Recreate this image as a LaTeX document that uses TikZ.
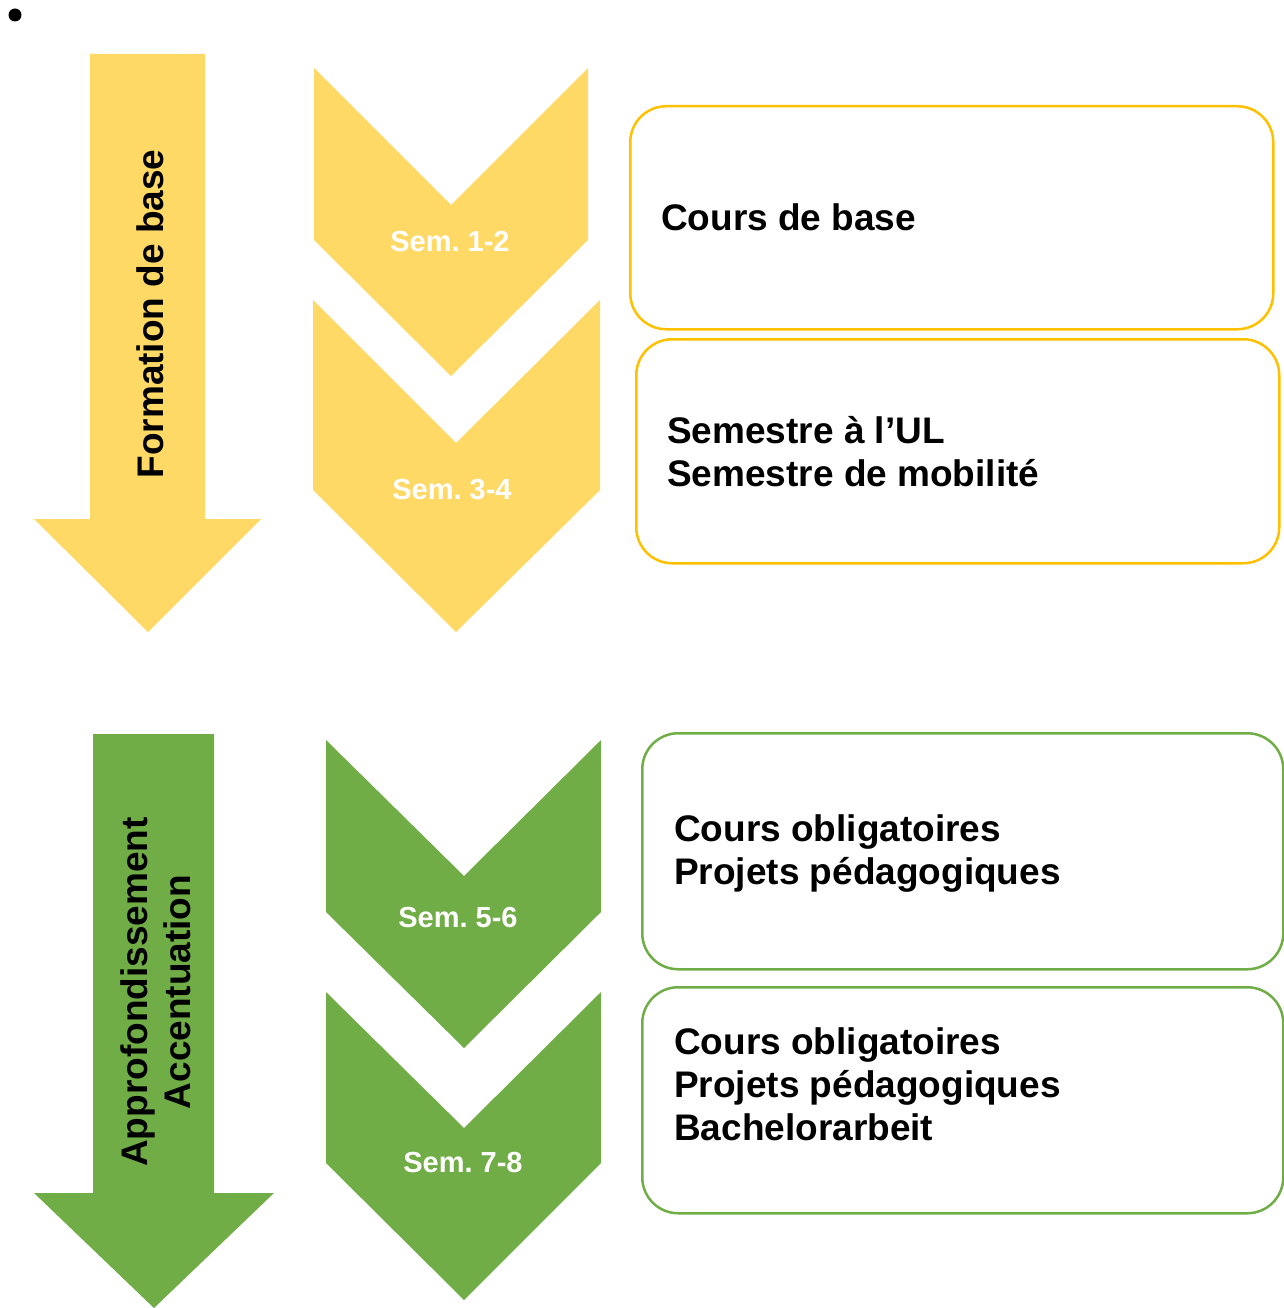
\documentclass[tikz,border=0pt]{standalone}
\usepackage{fontspec}
\setmainfont{Liberation Sans}
\usetikzlibrary{positioning}
\frenchspacing

\definecolor{semyellow}{HTML}{FFD966}
\definecolor{lineyellow}{HTML}{FFC000}
\definecolor{semgreen}{HTML}{70AD47}

\tikzset{
  phasetext/.style={font=\fontsize{37}{43}\selectfont\bfseries, rotate=90, align=center, inner sep=0pt},
  semlabel/.style={font=\fontsize{29}{34}\selectfont\bfseries, text=white, inner sep=0pt},
  contentbox/.style={draw, line width=2.5pt, rounded corners=36pt, inner sep=0pt, anchor=north west},
  contenttext/.style={font=\fontsize{37}{43}\selectfont\bfseries, align=left, inner sep=0pt, anchor=west},
}

\begin{document}
\begin{tikzpicture}[x=1pt, y=-1pt]
	\useasboundingbox (0,0) rectangle (1283,1308);
	\fill (15,15) circle (6.5pt);

	% Formation de base
	\fill [semyellow] (90,54) -- (205,54) -- (205,519) -- (261,519) -- (148,632)
		-- (34,519) -- (90,519) -- cycle;
	\node [phasetext] (formation) at (150,314) {Formation de base};

	\fill [semyellow] (314,68) -- (451,205) -- (588,68) -- (588,240) -- (451,376)
		-- (314,240) -- cycle;
	\node [semlabel] (sem12) at (450,242) {Sem. 1-2};
	\fill [semyellow] (313,300) -- (456,443) -- (600,300) -- (600,490) -- (456,632)
		-- (313,490) -- cycle;
	\node [semlabel] (sem34) at (452,490) {Sem. 3-4};

	\node [contentbox, draw=lineyellow, minimum width=643pt, minimum height=223pt] (base) at (629,105) {};
	\node [contenttext, right=32pt of base.west] (basetext) {Cours de base};
	\node [contentbox, draw=lineyellow, minimum width=643pt, minimum height=224pt] (mobil) at (635,338) {};
	\node [contenttext, right=32pt of mobil.west] (mobiltext) {Semestre à l’UL\\Semestre de mobilité};

	% Approfondissement
	\fill [semgreen] (93,734) -- (214,734) -- (214,1193) -- (274,1193) -- (154,1308)
		-- (34,1193) -- (93,1193) -- cycle;
	\node [phasetext] (approf) at (156,992) {Approfondissement\\Accentuation};

	\fill [semgreen] (326,740) -- (464,876) -- (601,740) -- (601,912) -- (464,1048)
		-- (326,912) -- cycle;
	\node [semlabel] (sem56) at (458,918) {Sem. 5-6};
	\fill [semgreen] (326,992) -- (464,1128) -- (601,992) -- (601,1163) -- (464,1300)
		-- (326,1163) -- cycle;
	\node [semlabel] (sem78) at (463,1163) {Sem. 7-8};

	\node [contentbox, draw=semgreen, minimum width=641pt, minimum height=236pt] (oblig) at (641,732) {};
	\node [contenttext, right=33pt of oblig.west, yshift=-2pt] (obligtext) {Cours obligatoires\\Projets pédagogiques};
	\node [contentbox, draw=semgreen, minimum width=641pt, minimum height=226pt] (bach) at (641,986) {};
	\node [contenttext, right=33pt of bach.west, yshift=16pt] (bachtext) {Cours obligatoires\\Projets pédagogiques\\Bachelorarbeit};
\end{tikzpicture}
\end{document}
